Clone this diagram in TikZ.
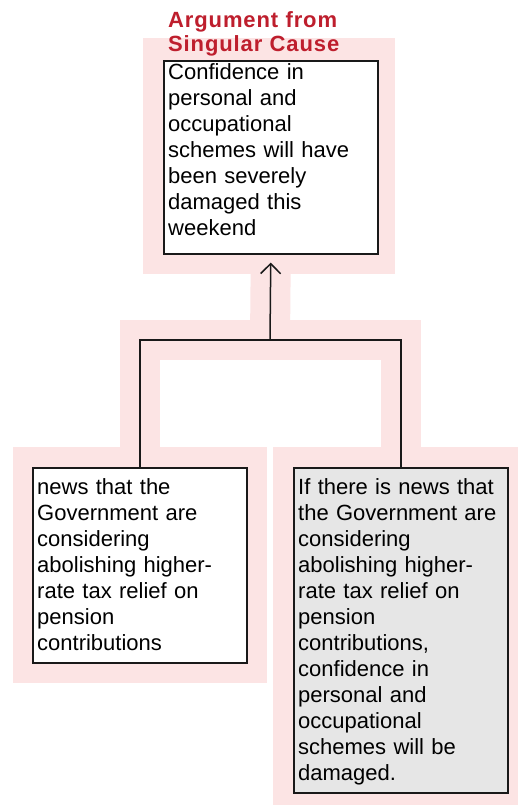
\documentclass[tikz,border=0pt]{standalone}
\usepackage{fontspec}
\setmainfont{Liberation Sans}
\newfontfamily\headfont[LetterSpace=4]{Liberation Sans}
\usetikzlibrary{arrows.meta,calc}
\pgfdeclarelayer{background}
\pgfsetlayers{background,main}
\definecolor{bandpink}{RGB}{252,228,228}
\definecolor{headred}{RGB}{190,30,45}
\definecolor{notegray}{RGB}{230,230,230}
\definecolor{inkdark}{RGB}{25,25,25}
\begin{document}
\begin{tikzpicture}[x=1pt,y=-1pt,
  claimbox/.style={draw=inkdark, line width=1.6pt, fill=white, rectangle,
    inner sep=0pt, minimum width=214pt, anchor=north west},
  claimtext/.style={anchor=base west, inner sep=0pt, text width=205pt,
    align=left, font=\fontsize{22}{26}\selectfont, text=black},
  heading/.style={anchor=base west, inner sep=0pt, text width=230pt,
    align=left, font=\fontsize{22}{24}\headfont\bfseries, text=headred},
  link/.style={draw=inkdark, line width=1.5pt},
  halo/.style={draw=bandpink, line width=40pt},
  haloarea/.style={fill=bandpink}]
\useasboundingbox (0,0) rectangle (517,805);
\clip (0,0) rectangle (517,805);

% argument scheme heading
\node[heading] (title) at (168,28) {Argument from\\Singular Cause};

% conclusion and premises
\node[claimbox, minimum height=193pt] (conc) at (163,60) {};
\node[claimtext] (conctext) at ($(conc.north west)+(5,20)$)
  {Confidence in\\personal and\\occupational\\schemes will have\\been severely\\damaged this\\weekend};

\node[claimbox, minimum height=195pt] (prem) at (32,467) {};
\node[claimtext] (premtext) at ($(prem.north west)+(5,27)$)
  {news that the\\Government are\\considering\\abolishing higher-\\rate tax relief on\\pension\\contributions};

\node[claimbox, fill=notegray, minimum height=325pt] (warr) at (293,467) {};
\node[claimtext] (warrtext) at ($(warr.north west)+(5,27)$)
  {If there is news that\\the Government are\\considering\\abolishing higher-\\rate tax relief on\\pension\\contributions,\\confidence in\\personal and\\occupational\\schemes will be\\damaged.};

% support links
\coordinate (join) at (270,340);
\draw[link, -{Straight Barb[length=10pt,width=20pt]}, shorten >=8pt] (join) -- (conc.south);
\draw[link] (prem.north) |- (join) -| (warr.north);

% pink highlight behind the argument
\begin{pgfonlayer}{background}
  \fill[white] (0,0) rectangle (517,805);
  \fill[haloarea] ($(conc.north west)+(-20,-22)$) rectangle ($(conc.south east)+(16,19)$);
  \fill[haloarea] ($(prem.north west)+(-19,-20)$) rectangle ($(prem.south east)+(19,19)$);
  \fill[haloarea] ($(warr.north west)+(-20,-20)$) rectangle ($(warr.south east)+(20,20)$);
  \draw[halo] (prem.north) |- (join) -| (warr.north);
  \draw[halo] (join) -- (conc.south);
\end{pgfonlayer}
\end{tikzpicture}
\end{document}
